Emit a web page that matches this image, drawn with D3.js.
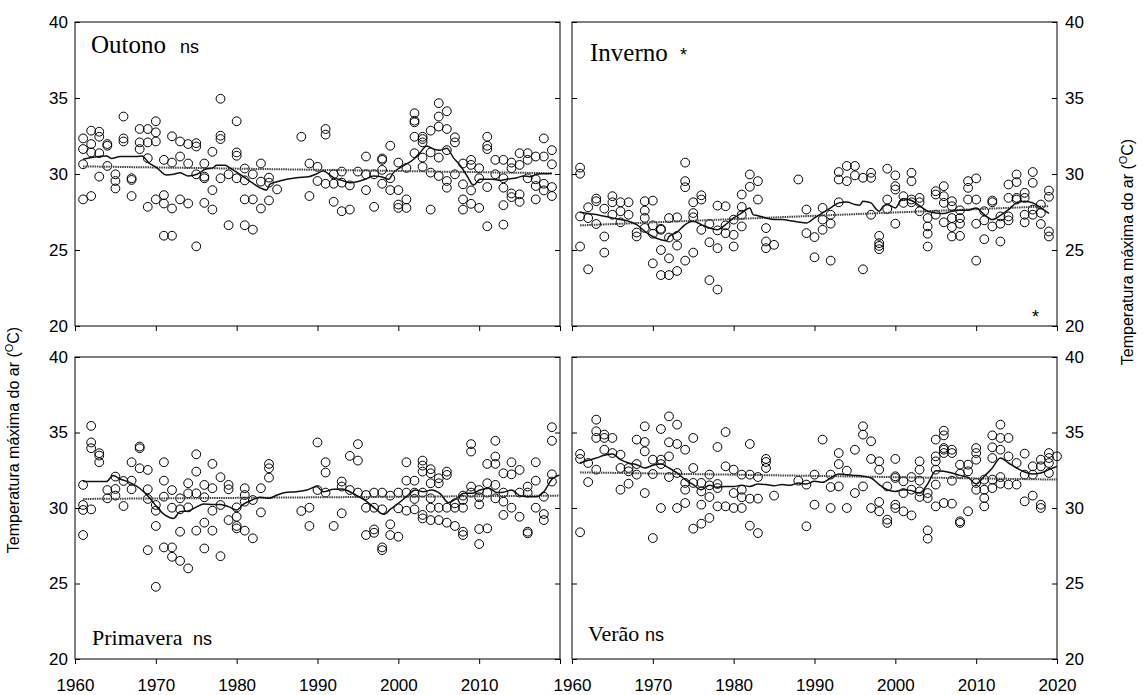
<!DOCTYPE html>
<html>
<head>
<meta charset="utf-8">
<script src="https://cdn.jsdelivr.net/npm/d3@7"></script>
<style>
body { margin: 0; background: #fff; }
svg { display: block; }
</style>
</head>
<body>
<svg width="1143" height="695"></svg>
<script>
// monthly values per year [year, v1, v2, ...]
const outonoPts = [
  [1961, 32.34, 31.64, 30.64, 28.33], [1962, 32.85, 31.97, 31.42, 28.55], [1963, 32.78, 32.45, 31.37, 29.83],
  [1964, 31.97, 31.86, 30.53], [1965, 29.98, 29.54, 29.05], [1966, 33.78, 32.34, 32.14],
  [1967, 29.72, 29.61, 28.55], [1968, 32.96, 32.08, 31.64], [1969, 32.96, 32.08, 31.04, 27.84],
  [1970, 33.47, 32.74, 32.14, 28.33], [1971, 30.93, 28.61, 28.06, 25.94], [1972, 32.48, 30.75, 27.73, 25.94],
  [1973, 32.14, 31.15, 28.33], [1974, 31.97, 30.69, 28.06], [1975, 32.03, 31.81, 29.98, 25.24],
  [1976, 30.69, 29.83, 29.72, 28.1], [1977, 31.46, 28.94, 27.66], [1978, 34.95, 32.52, 32.3, 29.72],
  [1979, 29.98, 26.63], [1980, 33.47, 31.42, 31.2, 29.72], [1981, 30.36, 29.58, 28.33, 26.63],
  [1982, 29.98, 28.33, 26.34], [1983, 30.69, 29.5, 27.73], [1984, 29.76, 29.43, 28.26], [1985, 28.99],
  [1988, 32.45], [1989, 30.69, 28.55], [1990, 30.47, 29.54], [1991, 32.96, 32.59, 29.36],
  [1992, 29.98, 29.36, 28.17], [1993, 30.16, 29.43, 27.55], [1994, 29.25, 27.66], [1995, 30.16],
  [1996, 31.15, 29.98, 28.94], [1997, 29.98, 27.84], [1998, 31.02, 30.93, 30.27, 29.36],
  [1999, 31.86, 29.72, 28.94], [2000, 30.75, 28.94, 27.99, 27.77], [2001, 30.4, 28.33, 27.77],
  [2002, 34.0, 33.51, 33.4, 32.45, 31.37], [2003, 32.45, 32.3, 32.08, 31.08, 30.47],
  [2004, 32.85, 31.42, 30.09, 27.66], [2005, 34.66, 33.78, 33.12, 31.08, 29.87],
  [2006, 34.13, 32.96, 31.57, 29.54, 29.1], [2007, 32.41, 32.08, 29.98], [2008, 30.69, 29.32, 28.33, 27.66],
  [2009, 30.93, 30.6, 28.92, 28.04], [2010, 30.38, 29.72, 27.77], [2011, 32.45, 31.86, 31.64, 29.14, 26.56],
  [2012, 30.93, 29.98], [2013, 30.93, 29.72, 29.1, 27.95, 26.67], [2014, 30.75, 30.38, 28.72, 28.48],
  [2015, 31.37, 30.6, 28.66, 28.17], [2016, 31.37, 30.93, 29.72], [2017, 31.15, 29.65, 29.21, 28.33],
  [2018, 32.34, 31.15, 29.36, 28.92], [2019, 31.57, 30.64, 29.14, 28.55]
];
const outonoMedia = [
  [1961, 30.97], [1962, 31.08], [1963, 31.15], [1963.9, 31.19], [1964.5, 31.02], [1965.6, 31.15], [1966.6, 31.15],
  [1967.6, 31.15], [1968.3, 31.19], [1969.1, 30.75], [1970.1, 30.42], [1971.3, 29.93], [1972.2, 29.98], [1973, 30.09],
  [1974, 29.87], [1975.1, 29.98], [1976.1, 30.31], [1977.1, 30.42], [1977.5, 30.57], [1978.6, 30.57], [1979.2, 30.38],
  [1980, 30.13], [1981, 29.76], [1981.9, 29.43], [1982.9, 29.09], [1983.7, 28.94], [1984.1, 29.32], [1985, 29.49],
  [1986.2, 29.65], [1987.4, 29.76], [1988.9, 29.82], [1989.9, 30.02], [1990.7, 30.2], [1992, 29.76], [1993, 29.58],
  [1994, 29.43], [1994.9, 29.49], [1995.9, 29.65], [1996.9, 29.87], [1997.9, 29.82], [1998.8, 29.65], [1999.4, 30.09],
  [2000.6, 30.53], [2001.9, 30.97], [2002.7, 31.41], [2003.5, 31.85], [2004.4, 31.63], [2005.2, 31.57], [2006, 31.7],
  [2006.8, 31.08], [2007.7, 30.53], [2008.5, 29.87], [2009.3, 29.27], [2010.1, 29.65], [2010.7, 29.65], [2011.6, 29.65],
  [2012.6, 29.58], [2013.4, 29.65], [2014.7, 29.76], [2015.5, 29.87], [2016.3, 29.82], [2017.1, 29.98], [2018, 30.02],
  [2019, 30.04]
];
const outonoTend = [[1961, 30.5], [2019, 30.05]];

const invernoPts = [
  [1961, 30.42, 30.02, 27.21, 25.23], [1962, 27.81, 27.1, 23.73], [1963, 28.38, 28.21, 26.71],
  [1964, 27.72, 25.89, 24.83], [1965, 28.54, 28.14, 27.32], [1966, 28.14, 27.55, 26.82],
  [1967, 28.14, 27.32], [1968, 26.15, 25.89], [1969, 28.21, 27.59, 27.11, 26.45],
  [1970, 28.25, 26.62, 26.07, 24.12], [1971, 26.4, 26.33, 25.0, 23.35], [1972, 27.1, 25.82, 24.45, 23.35],
  [1973, 27.15, 25.93, 25.29, 23.62], [1974, 30.75, 29.53, 29.13, 24.3], [1975, 28.14, 27.43, 27.15, 24.83],
  [1976, 28.6, 28.32, 26.33], [1977, 26.71, 25.51, 23.02], [1978, 27.92, 26.29, 25.12, 22.4],
  [1979, 27.88, 26.62, 26.11], [1980, 27.0, 26.0, 25.23], [1981, 28.65, 27.83, 27.32, 26.55],
  [1982, 29.97, 29.16], [1983, 29.53, 28.32], [1984, 26.44, 25.56, 25.12], [1985, 25.34],
  [1988, 29.64], [1989, 27.66, 26.11], [1990, 25.85, 24.52], [1991, 27.77, 27.0, 26.33],
  [1992, 27.32, 26.73, 24.3], [1993, 30.13, 29.64, 28.14], [1994, 30.53, 29.53], [1995, 30.53, 29.91],
  [1996, 29.75, 23.73], [1997, 30.08, 29.75, 27.32], [1998, 25.93, 25.45, 25.27, 25.05],
  [1999, 30.35, 28.32, 27.7], [2000, 29.91, 29.2, 28.98, 26.73], [2001, 28.54, 28.1],
  [2002, 30.08, 29.53, 28.32, 28.14], [2003, 28.43, 28.14, 27.55], [2004, 27.1, 26.55, 26.07, 25.23],
  [2005, 28.87, 28.65, 27.32], [2006, 29.2, 28.54, 28.1, 26.82], [2007, 28.21, 27.88, 27.1, 26.51, 25.89],
  [2008, 27.61, 27.1, 26.73, 25.93], [2009, 29.53, 29.09, 28.32], [2010, 29.71, 28.32, 26.73, 24.3],
  [2011, 27.55, 26.95, 25.71], [2012, 28.25, 28.14, 26.55], [2013, 27.21, 26.73, 25.56],
  [2014, 29.31, 28.43, 27.21, 26.95], [2015, 29.97, 29.47, 28.43, 28.32], [2016, 28.76, 28.43, 27.32, 26.82],
  [2017, 30.13, 29.42, 27.66, 27.32], [2018, 27.99, 27.44, 26.71], [2019, 28.91, 28.5, 26.22, 25.89]
];
const invernoMedia = [
  [1961, 27.48], [1962, 27.4], [1963, 27.33], [1964, 27.22], [1965, 27.11], [1966, 27.0], [1967, 26.89],
  [1968, 26.67], [1969, 26.23], [1970, 25.89], [1971, 25.67], [1971.7, 25.61], [1972, 25.89], [1973, 26.18],
  [1974, 26.67], [1975, 26.89], [1976, 26.67], [1977, 26.45], [1978, 26.34], [1979, 26.67], [1980, 27.11],
  [1981, 27.44], [1982, 27.77], [1982.4, 27.33], [1983, 27.26], [1984, 27.11], [1985, 27.0], [1986, 27.0],
  [1987, 26.93], [1988, 26.84], [1989, 26.78], [1990, 27.11], [1991, 27.44], [1992, 27.77], [1993, 28.1],
  [1994, 28.15], [1995, 27.99], [1995.6, 27.95], [1996, 28.21], [1997, 28.1], [1997.5, 27.77], [1998, 27.55],
  [1998.5, 27.88], [1999, 27.99], [2000, 27.77], [2000.6, 28.21], [2001, 28.37], [2002, 28.26], [2003, 27.92],
  [2004, 27.55], [2005, 27.44], [2006, 27.4], [2007, 27.55], [2008, 27.62], [2009, 27.62], [2010, 27.77],
  [2011, 27.33], [2012, 27.0], [2013, 27.28], [2014, 27.66], [2015, 28.1], [2016, 28.21], [2017, 28.1],
  [2018, 27.77], [2019, 27.4]
];
const invernoTend = [[1961, 26.62], [2019, 27.88]];

const primaveraPts = [
  [1961, 31.53, 30.2, 29.87, 28.21], [1962, 35.44, 34.34, 33.96, 29.91], [1963, 33.63, 33.47, 33.03],
  [1964, 31.19, 30.64], [1965, 32.08, 31.26, 30.82], [1966, 31.79, 30.13], [1967, 33.03, 31.81, 31.24],
  [1968, 34.07, 33.96, 32.63], [1969, 32.52, 31.24, 30.6, 27.21], [1970, 30.2, 29.82, 28.81, 24.78],
  [1971, 33.03, 31.81, 30.75, 27.39], [1972, 31.19, 30.02, 27.39, 26.77], [1973, 30.64, 29.91, 28.43, 26.5],
  [1974, 31.64, 30.97, 30.04, 26.0], [1975, 33.56, 32.41, 30.97, 28.5], [1976, 31.53, 30.71, 29.03, 27.32],
  [1977, 32.92, 31.31, 29.82, 28.5], [1978, 32.04, 30.2, 26.81], [1979, 31.53, 31.24, 29.2],
  [1980, 30.04, 29.42, 28.81, 28.65], [1981, 31.31, 30.86, 30.42, 28.5], [1982, 30.53, 27.99],
  [1983, 31.31, 29.71], [1984, 32.92, 32.63, 32.01], [1988, 29.8], [1989, 30.02, 28.81],
  [1990, 34.34, 31.19], [1991, 33.03, 32.35, 31.02], [1992, 28.81], [1993, 31.75, 31.42, 29.65],
  [1994, 33.45, 31.19], [1995, 34.23, 33.14, 31.02], [1996, 30.86, 30.02, 28.21],
  [1997, 31.02, 30.02, 28.58, 28.36], [1998, 31.02, 29.91, 27.39, 27.21], [1999, 30.82, 28.92, 28.21],
  [2000, 31.02, 29.98, 28.1], [2001, 33.03, 31.81, 31.02, 29.82], [2002, 31.81, 31.02, 30.6, 29.91],
  [2003, 33.14, 32.81, 32.41, 31.02, 29.54, 29.31], [2004, 32.57, 32.3, 31.64, 30.64, 30.02, 29.2],
  [2005, 31.97, 31.64, 30.02, 29.2], [2006, 32.41, 32.19, 30.02, 29.03], [2007, 30.31, 30.02, 28.81],
  [2008, 30.82, 30.53, 30.02, 28.43, 28.21], [2009, 34.23, 33.74, 31.42, 31.02],
  [2010, 31.19, 30.71, 30.24, 28.61, 27.61], [2011, 32.92, 31.64, 31.02, 28.65],
  [2012, 34.45, 33.41, 32.92, 31.53, 30.64], [2013, 32.3, 31.02, 30.42, 29.54], [2014, 33.03, 32.23, 30.02],
  [2015, 32.52, 31.02, 29.42], [2016, 31.42, 31.02, 28.43, 28.32], [2017, 33.03, 31.81, 30.02],
  [2018, 30.75, 29.6, 29.2], [2019, 35.35, 34.45, 32.23, 31.75]
];
const primaveraMedia = [
  [1961, 31.75], [1963.9, 31.75], [1964.7, 32.15], [1965.6, 31.92], [1966.8, 31.68], [1968, 31.31], [1969.1, 30.75],
  [1970.1, 30.09], [1971.1, 29.54], [1972.2, 29.31], [1973, 29.76], [1974, 29.8], [1975.1, 30.09], [1975.9, 30.27],
  [1977.1, 30.24], [1978, 30.24], [1979, 30.09], [1980, 29.87], [1980.8, 30.24], [1981.9, 30.53], [1982.9, 30.71],
  [1984, 30.64], [1985, 30.86], [1986, 31.02], [1987.4, 31.08], [1988.7, 31.19], [1989.9, 31.42], [1990.7, 31.08],
  [1992, 31.24], [1993, 31.26], [1994, 31.08], [1995.1, 30.75], [1996.1, 30.42], [1997.1, 29.98], [1998.2, 29.58],
  [1999, 29.91], [2000, 30.31], [2001, 30.75], [2002.1, 31.19], [2003.1, 31.08], [2004.1, 31.19], [2005.2, 30.93],
  [2006.2, 30.35], [2007.2, 30.64], [2008.1, 30.97], [2009.1, 30.97], [2010.1, 31.19], [2011.2, 31.31],
  [2012.2, 31.02], [2013, 31.04], [2014, 31.19], [2015.1, 30.8], [2016.1, 30.75], [2017.1, 30.75], [2018, 31.08],
  [2019, 31.9], [2019.9, 32.19]
];
const primaveraTend = [[1961, 30.6], [2019.9, 30.82]];

const veraoPts = [
  [1961, 33.58, 33.25, 28.39], [1962, 32.98, 31.72], [1963, 35.85, 35.08, 34.64, 32.54],
  [1964, 34.86, 34.64, 33.86], [1965, 34.64, 33.64], [1966, 33.53, 32.65, 31.21], [1967, 32.65, 32.43, 31.61],
  [1968, 34.53, 32.91, 32.21], [1969, 35.41, 34.37, 33.75, 30.99], [1970, 33.2, 32.25, 28.01],
  [1971, 35.23, 33.2, 32.91, 30.0], [1972, 36.07, 34.35, 33.42, 32.05], [1973, 35.52, 34.24, 32.32, 30.0],
  [1974, 33.86, 31.66, 31.21, 30.33], [1975, 34.64, 32.65, 31.66, 28.63], [1976, 31.66, 31.1, 30.22, 28.96],
  [1977, 32.21, 31.5, 30.73, 29.34], [1978, 34.04, 31.59, 31.32, 30.11], [1979, 35.03, 32.76, 30.11],
  [1980, 32.54, 30.99, 30.0], [1981, 32.21, 31.21, 30.71, 30.0], [1982, 34.24, 32.21, 30.62, 28.83],
  [1983, 32.05, 30.62, 28.34], [1984, 33.25, 33.05, 32.65], [1985, 30.82], [1988, 31.81],
  [1989, 31.55, 28.79], [1990, 32.21, 30.22], [1991, 34.53], [1992, 32.21, 31.39, 30.0],
  [1993, 33.64, 32.91, 31.43], [1994, 32.47, 30.0], [1995, 33.86, 30.99], [1996, 35.41, 34.86, 31.43],
  [1997, 34.42, 33.25, 30.0], [1998, 33.09, 32.54, 30.4, 29.78], [1999, 31.43, 29.23, 29.01],
  [2000, 33.25, 32.1, 31.99, 30.22, 30.0], [2001, 31.77, 30.99, 29.78], [2002, 32.05, 31.21, 29.51],
  [2003, 33.09, 32.54, 31.81, 31.1, 30.73], [2004, 30.99, 30.66, 28.52, 27.97],
  [2005, 34.53, 33.42, 33.09, 32.54, 31.55, 30.11], [2006, 35.12, 34.81, 33.97, 33.86, 33.64, 30.33],
  [2007, 33.86, 33.64, 31.81, 30.29], [2008, 32.87, 32.27, 29.12, 29.01], [2009, 32.87, 32.43, 29.78],
  [2010, 33.97, 33.64, 33.2, 31.66, 31.21], [2011, 31.88, 31.21, 30.66, 30.11],
  [2012, 34.81, 34.02, 33.31, 31.88, 31.32], [2013, 35.52, 34.64, 33.86, 32.05, 31.61],
  [2014, 34.64, 33.42, 31.55], [2015, 32.98, 31.55], [2016, 33.6, 32.21, 30.44], [2017, 32.76, 32.21, 30.82],
  [2018, 33.2, 32.76, 30.22, 30.0], [2019, 33.64, 33.31, 32.98, 32.32], [2020, 33.42]
];
const veraoMedia = [
  [1961, 32.98], [1962, 33.16], [1963, 33.31], [1964, 33.49], [1965, 33.58], [1966, 33.2], [1967, 32.98],
  [1968, 32.87], [1969, 32.65], [1970, 32.83], [1971, 32.91], [1972, 32.65], [1973, 32.32], [1974, 31.88],
  [1975, 31.55], [1976, 31.21], [1977, 31.5], [1978, 31.37], [1979, 31.43], [1980, 31.43], [1981, 31.5],
  [1982, 31.43], [1983, 31.59], [1984, 31.55], [1985, 31.48], [1986, 31.55], [1987, 31.5], [1988, 31.66],
  [1989, 31.59], [1990, 31.77], [1991, 31.7], [1992, 31.99], [1993, 32.25], [1994, 32.21], [1995, 32.16],
  [1996, 32.1], [1997, 31.99], [1998, 31.55], [1999, 31.21], [2000, 31.1], [2001, 31.21], [2002, 31.15],
  [2003, 30.99], [2004, 31.59], [2005, 32.47], [2006, 32.43], [2007, 32.32], [2008, 32.16], [2009, 32.03],
  [2010, 31.59], [2011, 32.1], [2012, 32.65], [2013, 33.31], [2014, 32.98], [2015, 32.65], [2016, 32.38],
  [2017, 32.25], [2018, 32.32], [2019, 32.54], [2020, 32.76]
];
const veraoTend = [[1961, 32.36], [2020, 31.88]];

const yTicks = [20, 25, 30, 35, 40];
const xTicks = [1960, 1970, 1980, 1990, 2000, 2010, 2020];
const yTitle = 'Temperatura máxima do ar (';

const panels = [
  { pts: outonoPts, media: outonoMedia, tend: outonoTend, left: 75, right: 560, top: 22, bottom: 326, side: 'left', xLab: [] },
  { pts: invernoPts, media: invernoMedia, tend: invernoTend, left: 572, right: 1057, top: 22, bottom: 326, side: 'right', xLab: [] },
  { pts: primaveraPts, media: primaveraMedia, tend: primaveraTend, left: 75, right: 560, top: 357, bottom: 659, side: 'left', xLab: [1960, 1970, 1980, 1990, 2000, 2010] },
  { pts: veraoPts, media: veraoMedia, tend: veraoTend, left: 572, right: 1057, top: 357, bottom: 659, side: 'right', xLab: xTicks }
];

const svg = d3.select('svg');
const sans = "'Liberation Sans', Arial, sans-serif";
const serif = "'Liberation Serif', 'Times New Roman', serif";

function styleAxis(g) {
  g.select('.domain').remove();
  g.selectAll('line').attr('stroke', '#000');
  g.selectAll('text').attr('font-family', sans).attr('font-size', 17).attr('fill', '#000');
}

panels.forEach(p => {
  const x = d3.scaleLinear().domain([1960, 2020]).range([p.left, p.right]);
  const y = d3.scaleLinear().domain([20, 40]).range([p.bottom, p.top]);
  const g = svg.append('g');

  // y axes: inward ticks on both sides, labels on outer side
  g.append('g').attr('transform', `translate(${p.left},0)`)
    .call(d3.axisLeft(y).tickValues(yTicks).tickSizeInner(-5).tickSizeOuter(0).tickPadding(7)
      .tickFormat(p.side === 'left' ? d3.format('d') : () => ''))
    .call(styleAxis);
  g.append('g').attr('transform', `translate(${p.right},0)`)
    .call(d3.axisRight(y).tickValues(yTicks).tickSizeInner(-5).tickSizeOuter(0).tickPadding(8)
      .tickFormat(p.side === 'right' ? d3.format('d') : () => ''))
    .call(styleAxis);

  // x axis: outward ticks
  g.append('g').attr('transform', `translate(0,${p.bottom})`)
    .call(d3.axisBottom(x).tickValues(xTicks).tickSizeInner(5).tickSizeOuter(0).tickPadding(15)
      .tickFormat(d => p.xLab.includes(d) ? String(d) : ''))
    .call(styleAxis);

  g.append('rect')
    .attr('x', p.left).attr('y', p.top)
    .attr('width', p.right - p.left).attr('height', p.bottom - p.top)
    .attr('fill', 'none').attr('stroke', '#000').attr('stroke-width', 1);

  const flat = [];
  p.pts.forEach(r => r.slice(1).forEach(v => flat.push([r[0], v])));
  g.selectAll('circle').data(flat).enter().append('circle')
    .attr('cx', d => x(d[0])).attr('cy', d => y(d[1])).attr('r', 4.4)
    .attr('fill', 'none').attr('stroke', '#000').attr('stroke-width', 1);

  const line = d3.line().x(d => x(d[0])).y(d => y(d[1]));
  g.append('path').datum(p.tend).attr('d', line)
    .attr('fill', 'none').attr('stroke', '#444').attr('stroke-width', 2).attr('stroke-dasharray', '1.5,0.8');
  g.append('path').datum(p.media).attr('d', d3.line().curve(d3.curveMonotoneX).x(d => x(d[0])).y(d => y(d[1])))
    .attr('fill', 'none').attr('stroke', '#111').attr('stroke-width', 1.5);
});

// season labels
function label(xp, yp, size, name, tag, tagX) {
  svg.append('text').attr('x', xp).attr('y', yp).attr('font-family', serif).attr('font-size', size).text(name);
  svg.append('text').attr('x', tagX).attr('y', yp).attr('font-family', sans).attr('font-size', 18).text(tag);
}
label(91, 53, 25, 'Outono', 'ns', 180);
label(590, 61, 25, 'Inverno', '*', 680);
label(92, 645, 22, 'Primavera', 'ns', 193);
label(588, 641, 22, 'Verão', 'ns', 645);
svg.append('text').attr('x', 1032).attr('y', 323).attr('font-family', sans).attr('font-size', 18).text('*');

// axis titles
function yLabel(xp, yp) {
  const t = svg.append('text').attr('transform', `translate(${xp},${yp}) rotate(-90)`)
    .attr('text-anchor', 'middle').attr('font-family', sans).attr('font-size', 16).attr('fill', '#000');
  t.append('tspan').text(yTitle);
  t.append('tspan').attr('baseline-shift', 'super').attr('font-size', 11).text('O');
  t.append('tspan').text('C)');
}
yLabel(19, 440);
yLabel(1133, 252);
</script>
</body>
</html>
